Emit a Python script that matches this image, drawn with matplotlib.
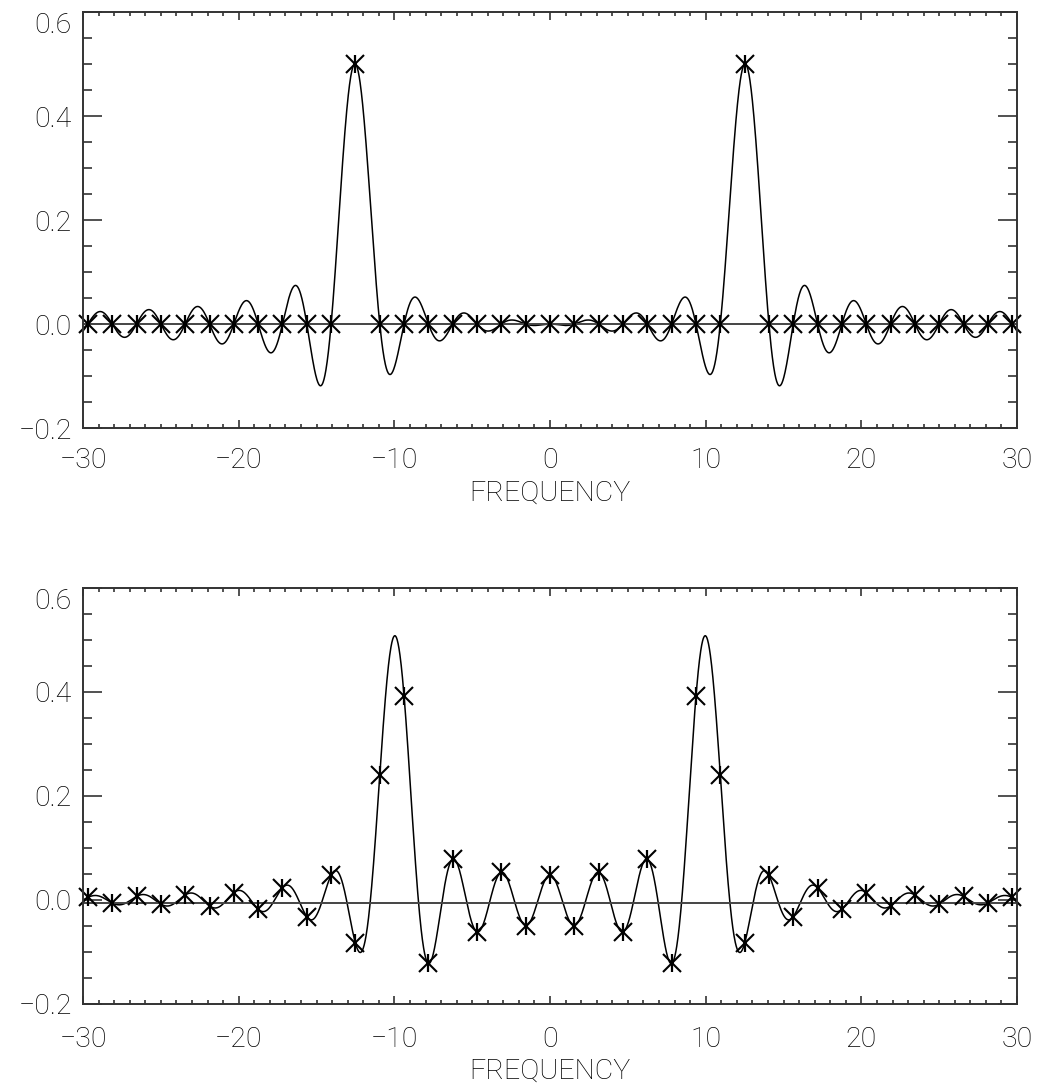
import numpy as np
import matplotlib
matplotlib.use('Agg')
import matplotlib.pyplot as plt

# two sampled cosines: one exactly on a DFT bin, one between bins
signal_freqs = [12.5, 10.0]
n_samples = 64
sample_dt = 0.01
zero_lines = [0.0, -0.005]

xticks = [-30, -20, -10, 0, 10, 20, 30]
xtick_labels = ['\u221230', '\u221220', '\u221210', '0', '10', '20', '30']
yticks = [-0.2, 0.0, 0.2, 0.4, 0.6]
ytick_labels = ['\u22120.2', '0.0', '0.2', '0.4', '0.6']

plt.rcParams['font.family'] = ['Roboto', 'DejaVu Sans']
plt.rcParams['font.weight'] = 'light'


def spectrum(f0, freqs):
    t = (np.arange(n_samples) - (n_samples - 1) / 2) * sample_dt
    sig = np.cos(2 * np.pi * f0 * t)
    return np.cos(2 * np.pi * np.outer(freqs, t)) @ sig / n_samples


df = 1.0 / (n_samples * sample_dt)
k = np.arange(int(-30 / df), int(30 / df) + 1)
bin_freqs = k * df
fine = np.linspace(-30, 30, 3001)

fig = plt.figure(figsize=(10.38, 10.83), dpi=100)
positions = [[0.0800, 0.6048, 0.8998, 0.3841], [0.0800, 0.0730, 0.8998, 0.3841]]
tick_pads = [14, 16]
label_pads = [4, 3]

for pos, f0, zl, tp, lp in zip(positions, signal_freqs, zero_lines,
                                tick_pads, label_pads):
    ax = fig.add_axes(pos)
    ax.plot(fine, spectrum(f0, fine), color='black', lw=1.1)
    ax.axhline(zl, color='#444444', lw=1.4)
    vals = spectrum(f0, bin_freqs)
    # asterisk = X plus a vertical stroke
    ax.plot(bin_freqs, vals, ls='none', marker='x', ms=13.5,
            mec='black', mew=1.5, clip_on=False)
    ax.plot(bin_freqs, vals, ls='none', marker='|', ms=13.5,
            mec='black', mew=1.6, clip_on=False)

    ax.set_xlim(-30, 30)
    ax.set_ylim(-0.2, 0.6)
    ax.set_xticks(xticks)
    ax.set_xticklabels(xtick_labels)
    ax.set_yticks(yticks)
    ax.set_yticklabels(ytick_labels)
    ax.set_xticks(np.arange(-30, 31, 1), minor=True)
    ax.set_yticks(np.arange(-0.2, 0.61, 0.05), minor=True)
    ax.tick_params(which='both', direction='in', top=True, right=True,
                   colors='#333333', labelcolor='black', labelsize=20.5)
    ax.tick_params(axis='x', which='major', length=6, width=1.2, pad=tp)
    ax.tick_params(axis='x', which='minor', length=3, width=1.2)
    ax.tick_params(axis='y', which='major', length=13.5, width=1.2, pad=8)
    ax.tick_params(axis='y', which='minor', length=6.5, width=1.2)
    ax.get_yticklabels()[-1].set_va('top')
    for s in ax.spines.values():
        s.set_color('#333333')
        s.set_linewidth(1.4)
    ax.set_xlabel('FREQUENCY', fontsize=20.5, fontweight='light', labelpad=lp)

fig.savefig('out.png', dpi=100)
